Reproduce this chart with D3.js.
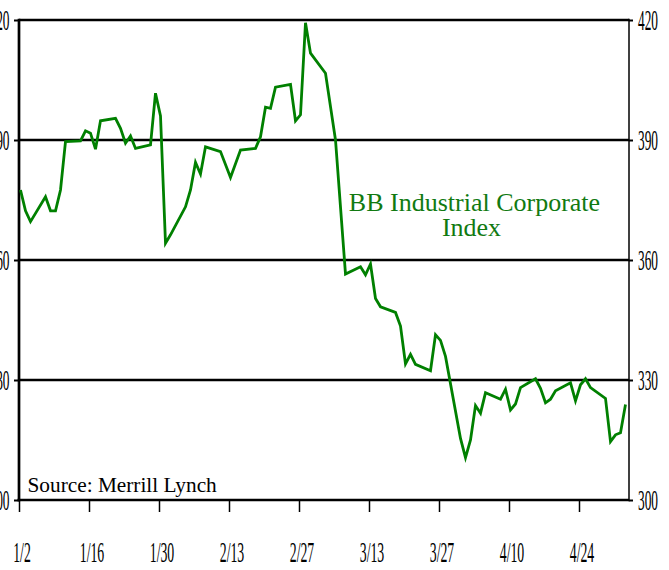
<!DOCTYPE html>
<html>
<head>
<meta charset="utf-8">
<script src="https://cdn.jsdelivr.net/npm/d3@7"></script>
<style>
  html, body { margin: 0; padding: 0; background: #fff; }
  svg { display: block; }
</style>
</head>
<body>
<svg id="chart" width="669" height="570"></svg>
<script>
// ---- data (day offset from Jan 2, index value) ----
const days = [0,1,2,5,6,7,8,9,12,13,14,15,16,19,20,21,22,23,26,27,28,29,30,33,34,35,36,37,40,42,44,47,48,49,50,51,54,55,56,57,58,61,63,65,68,69,70,71,72,75,76,77,78,79,82,83,84,85,88,89,90,91,92,93,96,97,98,99,100,103,104,105,106,107,110,111,112,113,114,117,118,119,120,121];
const values = [377.5,372.3,369.6,375.8,372.3,372.3,377.5,389.6,389.8,392.3,391.7,387.7,394.8,395.4,392.9,389.2,391.0,387.9,388.8,401.7,396.0,364.2,366.3,373.3,377.5,384.4,381.5,388.3,387.1,380.6,387.5,387.9,390.8,398.2,397.9,403.2,403.9,394.8,396.3,419.3,411.7,406.7,390.0,356.5,358.3,356.3,359.0,350.4,348.3,346.9,343.5,334.0,336.4,333.9,332.3,341.3,339.9,335.9,315.4,310.6,315.0,323.6,321.7,326.8,325.2,327.7,322.5,324.0,328.1,330.3,327.9,324.3,325.2,327.3,329.3,324.8,328.8,330.3,328.1,325.4,314.6,316.3,316.8,323.9];
const tickDays = [0,14,28,42,56,70,84,98,112];
const tickLabels = ["1/2","1/16","1/30","2/13","2/27","3/13","3/27","4/10","4/24"];
const yTicks = [300,330,360,390,420];
const seriesName = ["BB Industrial Corporate", "Index"];
const sourceText = "Source: Merrill Lynch";

(function () {
const svg = d3.select("#chart");
const pL = 19, pR = 629, pT = 20, pB = 500;

const x = d3.scaleLinear().domain([0, 122]).range([pL, pR]);
const y = d3.scaleLinear().domain([300, 420]).range([pB, pT]);
const obsOffset = 0.3; // observations sit slightly after the date tick

const font = "'Liberation Serif','Times New Roman',serif";

// gridlines
svg.append("g").selectAll("line").data(yTicks.filter(v => v > 300))
  .join("line")
  .attr("x1", pL).attr("x2", pR)
  .attr("y1", d => y(d)).attr("y2", d => y(d))
  .attr("stroke", "#000").attr("stroke-width", 2.7);

// bottom axis (ticks only)
const xAxis = d3.axisBottom(x).tickValues(tickDays).tickSize(12).tickFormat("").tickSizeOuter(0);
const gx = svg.append("g").attr("transform", `translate(0,${pB})`).call(xAxis);
gx.select(".domain").remove();
gx.selectAll(".tick line").attr("stroke", "#000").attr("stroke-width", 1.5);
svg.append("line").attr("x1", pL - 1.5).attr("x2", pR).attr("y1", pB).attr("y2", pB)
  .attr("stroke", "#000").attr("stroke-width", 2.7);

// left axis
const yAxisL = d3.axisLeft(y).tickValues(yTicks).tickSize(5).tickFormat("").tickSizeOuter(0);
const gl = svg.append("g").attr("transform", `translate(${pL},0)`).call(yAxisL);
gl.select(".domain").remove();
gl.selectAll(".tick line").attr("stroke", "#000").attr("stroke-width", 2);
svg.append("line").attr("x1", pL).attr("x2", pL).attr("y1", pT - 1.3).attr("y2", pB + 1.3)
  .attr("stroke", "#000").attr("stroke-width", 2.7);

// right axis
const yAxisR = d3.axisRight(y).tickValues(yTicks).tickSize(4).tickFormat("").tickSizeOuter(0);
const gr = svg.append("g").attr("transform", `translate(${pR},0)`).call(yAxisR);
gr.select(".domain").remove();
gr.selectAll(".tick line").attr("stroke", "#000").attr("stroke-width", 2);
svg.append("line").attr("x1", pR).attr("x2", pR).attr("y1", pT - 1.3).attr("y2", pB + 1.3)
  .attr("stroke", "#000").attr("stroke-width", 1.5);

// condensed labels
const labFs = 29, sx = 0.46;
svg.append("g").selectAll("text").data(yTicks).join("text")
  .attr("transform", d => `translate(9.5,${y(d) + 9.6}) scale(${sx},1)`)
  .attr("text-anchor", "end")
  .style("font-family", font).style("font-size", labFs + "px").attr("fill", "#000")
  .text(d => d);
svg.append("g").selectAll("text").data(yTicks).join("text")
  .attr("transform", d => `translate(638,${y(d) + 9.6}) scale(${sx},1)`)
  .attr("text-anchor", "start")
  .style("font-family", font).style("font-size", labFs + "px").attr("fill", "#000")
  .text(d => d);
svg.append("g").selectAll("text").data(tickDays).join("text")
  .attr("transform", (d) => `translate(${x(d) + 3},562) scale(${sx},1)`)
  .attr("text-anchor", "middle")
  .style("font-family", font).style("font-size", "30px").attr("fill", "#000")
  .text((d, i) => tickLabels[i]);

// series line
const data = days.map((d, i) => ({ day: d, v: values[i] }));
const line = d3.line().x(d => x(d.day + obsOffset)).y(d => y(d.v));
svg.append("path").datum(data)
  .attr("d", line)
  .attr("fill", "none")
  .attr("stroke", "#008000")
  .attr("stroke-width", 2.8)
  .attr("stroke-linejoin", "miter");

// series label
const lab1 = svg.append("text")
  .attr("text-anchor", "middle")
  .attr("x", 474.5).attr("y", 211)
  .style("font-family", font).style("font-size", "26px")
  .attr("fill", "#117a11")
  .text(seriesName[0]);
const lab2 = svg.append("text")
  .attr("text-anchor", "middle")
  .attr("x", 471.5).attr("y", 236)
  .style("font-family", font).style("font-size", "26px")
  .attr("fill", "#117a11")
  .text(seriesName[1]);

// source
svg.append("text").attr("x", 27.5).attr("y", 492)
  .style("font-family", font).style("font-size", "21.3px").attr("fill", "#000")
  .text(sourceText);
})();
</script>
</body>
</html>
